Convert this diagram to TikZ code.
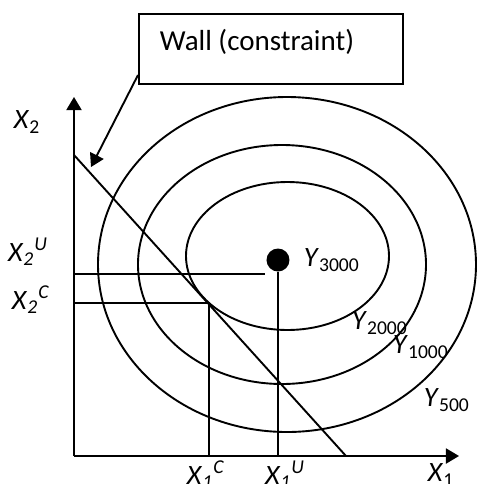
\documentclass[tikz,border=0pt]{standalone}
\usepackage{fontspec}
\setmainfont{Carlito}
\usetikzlibrary{arrows.meta}

\begin{document}
\begin{tikzpicture}[x=0.5pt,y=-0.5pt,line width=0.95pt,
  lbl/.style={font=\fontsize{14}{16}\selectfont,inner sep=0pt},
  tip/.style={-{Triangle[length=6.5pt,width=7.5pt]}}]
\useasboundingbox (0,0) rectangle (477,484);
% axes
\coordinate (O) at (74,456);
\coordinate (ytop) at (74,97);
\coordinate (xend) at (459,456);
\draw[tip] (O) -- (ytop);
\draw[tip] (O) -- (xend);
% isoquants
\draw (287,264.5) ellipse [x radius=189,y radius=167.5];
\draw (282,264.5) ellipse [x radius=144,y radius=119.5];
\draw (287.5,256) ellipse [x radius=101.5,y radius=74];
% wall
\coordinate (wtop) at (74,155);
\coordinate (wbot) at (346,456);
\draw (wtop) -- (wbot);
% optimum and constrained choice
\node[circle,fill,inner sep=0pt,minimum size=11.5pt] (peak) at (278,260) {};
\coordinate (x1u) at (278,456);
\coordinate (x2u) at (74,274);
\coordinate (x2uend) at (265,274);
\coordinate (tang) at (209,303);
\coordinate (x2c) at (74,303);
\coordinate (x1c) at (209,456);
\draw (peak) -- (x1u);
\draw (x2u) -- (x2uend);
\draw (x2c) -- (tang) -- (x1c);
% label box
\node[draw,minimum width=132pt,minimum height=35pt,anchor=north west] (wall) at (138,13) {};
\node[anchor=west,font=\fontsize{14.5}{17}\selectfont,inner sep=0pt] (walltext) at (159,42) {Wall (constraint)};
\coordinate (wallfoot) at (138,75);
\coordinate (wallhit) at (91,167);
\draw[tip] (wallfoot) -- (wallhit);
% labels
\node[lbl] (lx2) at (27,122) {\textit{X}\textsubscript{2}};
\node[lbl] (lx2u) at (28,252) {\textit{X}\textsubscript{\textit{2}}\textsuperscript{\textit{U}}};
\node[lbl] (lx2c) at (31,300) {\textit{X}\textsubscript{\textit{2}}\textsuperscript{\textit{C}}};
\node[lbl] (lx1c) at (206,475) {\textit{X}\textsubscript{\textit{1}}\textsuperscript{\textit{C}}};
\node[lbl] (lx1u) at (285,475) {\textit{X}\textsubscript{\textit{1}}\textsuperscript{\textit{U}}};
\node[lbl] (lx1) at (441,475) {\textit{X}\textsubscript{1}};
\node[lbl,anchor=west] (y3000) at (303,260) {\textit{Y}\textsubscript{3000}};
\node[lbl,anchor=west] (y2000) at (351,323) {\textit{Y}\textsubscript{2000}};
\node[lbl,anchor=west] (y1000) at (392,347) {\textit{Y}\textsubscript{1000}};
\node[lbl,anchor=west] (y500) at (423,400) {\textit{Y}\textsubscript{500}};
\end{tikzpicture}
\end{document}
